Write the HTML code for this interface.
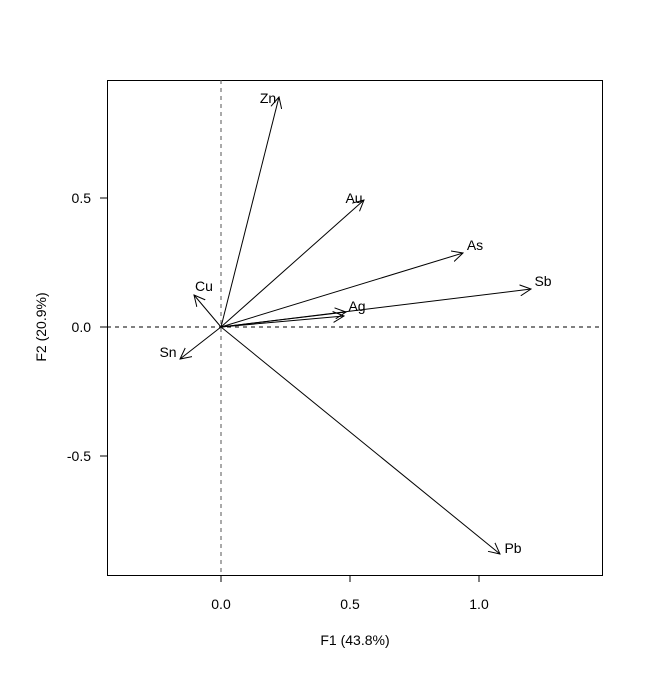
<!DOCTYPE html>
<html><head><style>body{margin:0;background:#fff}</style></head><body>
<svg width="672" height="672" xmlns="http://www.w3.org/2000/svg" font-family="Liberation Sans, sans-serif" font-size="14">
<defs><marker id="a" markerWidth="12" markerHeight="12" refX="11" refY="6" orient="auto" markerUnits="userSpaceOnUse"><path d="M0,0.5 L11,6 L0,11.5" fill="none" stroke="#000" stroke-width="1"/></marker></defs>
<rect x="107.5" y="80.5" width="495" height="495" fill="none" stroke="#000"/>
<line x1="221" y1="80" x2="221" y2="575" stroke="#555" stroke-dasharray="4,4"/>
<line x1="107" y1="327" x2="602" y2="327" stroke="#000" stroke-dasharray="4,4"/>
<g stroke="#000" stroke-width="1" marker-end="url(#a)">
<line x1="221" y1="327" x2="279" y2="97"/>
<line x1="221" y1="327" x2="364" y2="200"/>
<line x1="221" y1="327" x2="463" y2="253"/>
<line x1="221" y1="327" x2="531" y2="289"/>
<line x1="221" y1="327" x2="346" y2="312"/>
<line x1="221" y1="327" x2="344" y2="316"/>
<line x1="221" y1="327" x2="194" y2="295"/>
<line x1="221" y1="327" x2="180" y2="359"/>
<line x1="221" y1="327" x2="500" y2="554"/>
</g>
<g text-anchor="middle">
<text x="268" y="103">Zn</text><text x="354" y="203">Au</text><text x="475" y="250">As</text>
<text x="543" y="286">Sb</text><text x="357" y="311">Ag</text><text x="204" y="291">Cu</text>
<text x="168" y="357">Sn</text><text x="513" y="553">Pb</text>
<text x="221" y="609">0.0</text><text x="350" y="609">0.5</text><text x="479" y="609">1.0</text>
<text x="355" y="645">F1 (43.8%)</text>
</g>
<g stroke="#000"><line x1="221" y1="575" x2="221" y2="582"/><line x1="350" y1="575" x2="350" y2="582"/><line x1="479" y1="575" x2="479" y2="582"/>
<line x1="100" y1="198" x2="107" y2="198"/><line x1="100" y1="327" x2="107" y2="327"/><line x1="100" y1="456" x2="107" y2="456"/></g>
<g text-anchor="end"><text x="91" y="203">0.5</text><text x="91" y="332">0.0</text><text x="91" y="461">-0.5</text></g>
<text transform="translate(46,327) rotate(-90)" text-anchor="middle">F2 (20.9%)</text>
</svg>
</body></html>
